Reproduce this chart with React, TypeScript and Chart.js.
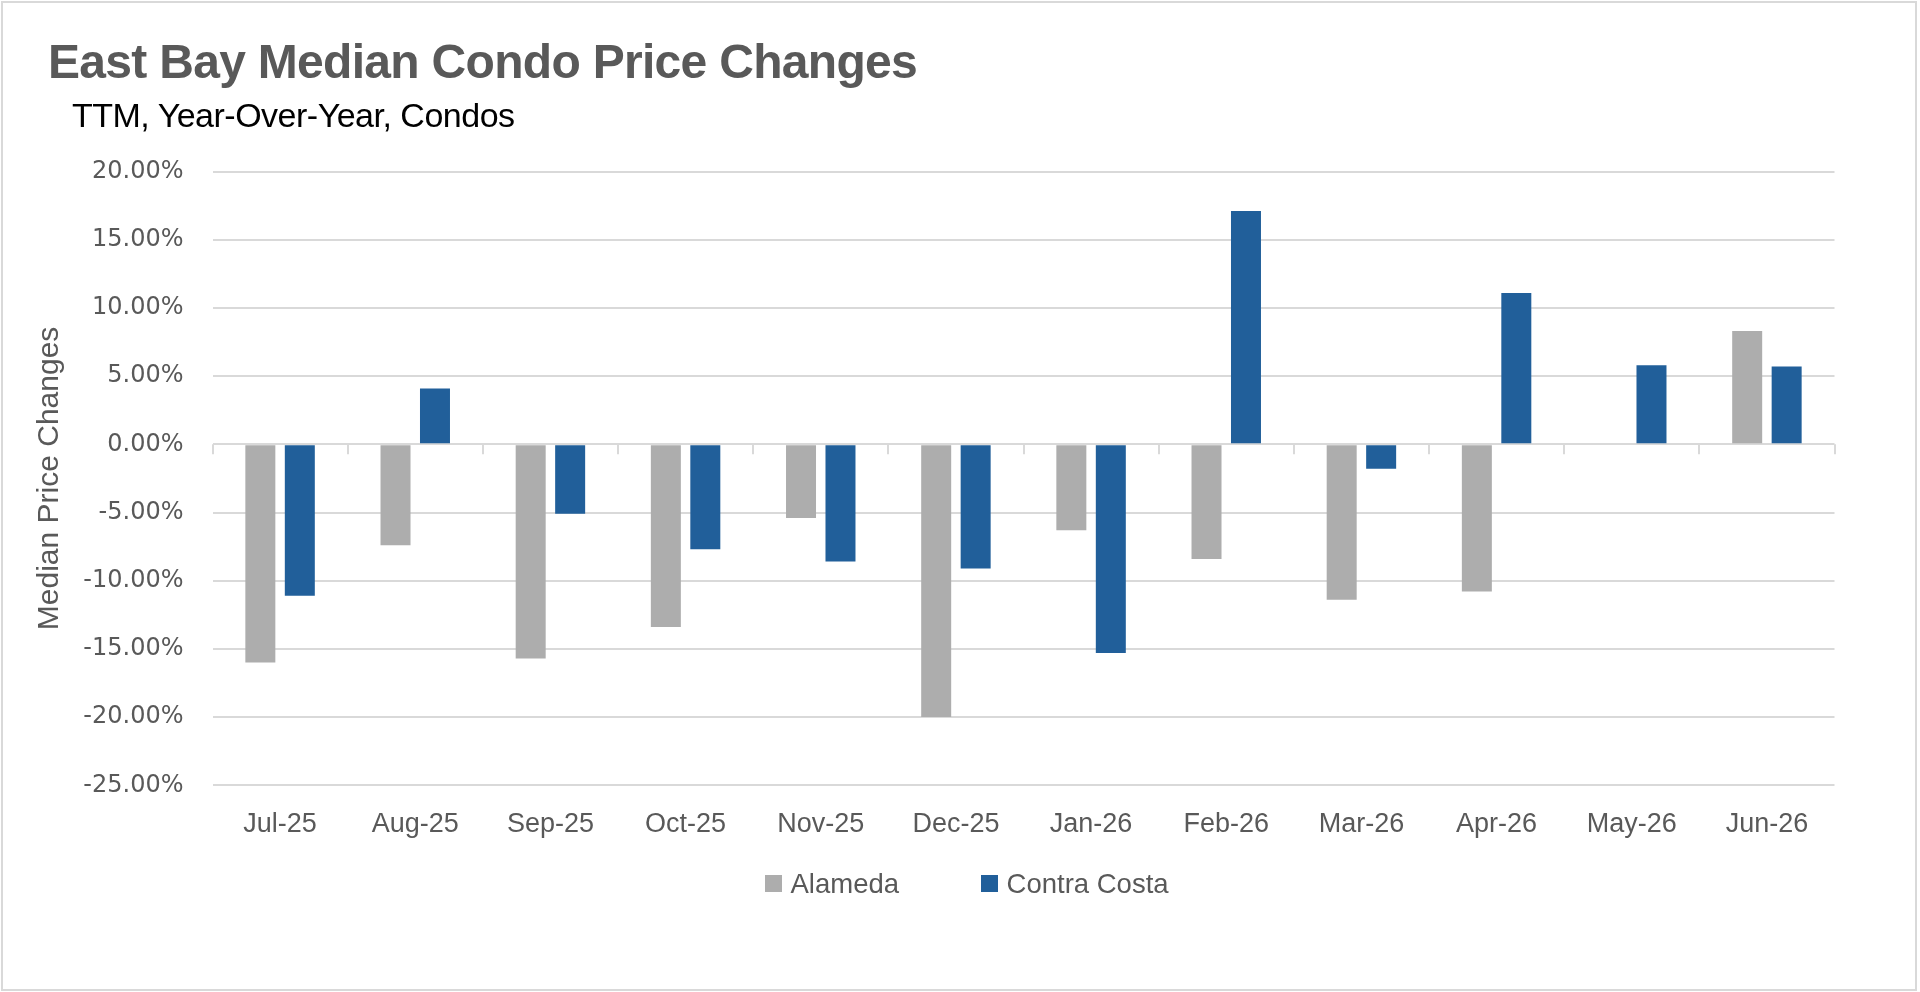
import React, { useEffect, useRef } from "react";
import { Chart, registerables } from "chart.js";

Chart.register(...registerables);

// ---- Data ----
const categories = [
  "Jul-25", "Aug-25", "Sep-25", "Oct-25", "Nov-25", "Dec-25",
  "Jan-26", "Feb-26", "Mar-26", "Apr-26", "May-26", "Jun-26",
];
const alamedaValues: (number | null)[] = [
  -16.0, -7.4, -15.7, -13.4, -5.4, -20.0, -6.3, -8.4, -11.4, -10.8, null, 8.3,
];
const contraCostaValues: (number | null)[] = [
  -11.1, 4.1, -5.1, -7.7, -8.6, -9.1, -15.3, 17.1, -1.8, 11.1, 5.8, 5.7,
];
const seriesNames = ["Alameda", "Contra Costa"];
const yMin = -25;
const yMax = 20;
const yStep = 5;
const titleText = "East Bay Median Condo Price Changes";
const subtitleText = "TTM, Year-Over-Year, Condos";
const yAxisTitle = "Median Price Changes";

// ---- Styles ----
const GRAY_BAR = "#ADADAD";
const BLUE_BAR = "#215F9A";
const GRID = "#D9D9D9";
const TEXT = "#595959";

const zeroTicks = {
  id: "zeroTicks",
  beforeDatasetsDraw(chart: any) {
    const x = chart.scales.x;
    const y = chart.scales.y;
    const y0 = y.getPixelForValue(0);
    const n = categories.length;
    const ctx = chart.ctx;
    ctx.save();
    ctx.strokeStyle = GRID;
    ctx.lineWidth = 2;
    for (let i = 0; i <= n; i++) {
      const px = Math.round(x.left + (i * x.width) / n);
      ctx.beginPath();
      ctx.moveTo(px, y0);
      ctx.lineTo(px, y0 + 10);
      ctx.stroke();
    }
    ctx.restore();
  },
};

export default function App() {
  const canvasRef = useRef<HTMLCanvasElement | null>(null);

  useEffect(() => {
    const canvas = canvasRef.current;
    if (!canvas) return;
    const chart = new Chart(canvas, {
      type: "bar",
      data: {
        labels: categories,
        datasets: [
          {
            label: seriesNames[0],
            data: alamedaValues,
            backgroundColor: GRAY_BAR,
            borderWidth: 0,
            categoryPercentage: 0.584,
            barPercentage: 0.76,
          },
          {
            label: seriesNames[1],
            data: contraCostaValues,
            backgroundColor: BLUE_BAR,
            borderWidth: 0,
            categoryPercentage: 0.584,
            barPercentage: 0.76,
          },
        ],
      },
      options: {
        responsive: false,
        animation: false,
        devicePixelRatio: 1,
        layout: {
          padding: { top: 171.5, left: 20, right: 85.5, bottom: 106.7 },
        },
        plugins: {
          legend: { display: false },
          title: { display: false },
          tooltip: { enabled: false },
        },
        scales: {
          x: {
            grid: { display: false, drawTicks: false },
            border: { display: false },
            ticks: {
              color: TEXT,
              font: { family: "'Liberation Sans', Arial, sans-serif", size: 27 },
              padding: 23.5,
              maxRotation: 0,
              autoSkip: false,
            },
            afterFit: (scale: any) => {
              scale.height = 100;
            },
          },
          y: {
            min: yMin,
            max: yMax,
            grid: { color: GRID, lineWidth: 2, drawTicks: false },
            border: { display: false },
            ticks: {
              stepSize: yStep,
              color: TEXT,
              font: { family: "'DejaVu Sans', Verdana, sans-serif", size: 24 },
              padding: 29,
              callback: (v: any) => Number(v).toFixed(2) + "%",
            },
            title: {
              display: true,
              text: yAxisTitle,
              color: TEXT,
              font: { family: "'Liberation Sans', Arial, sans-serif", size: 30 },
              padding: { top: 12, bottom: 0 },
            },
            afterFit: (scale: any) => {
              scale.width = 192.5;
            },
          },
        },
      },
      plugins: [zeroTicks],
    });
    return () => chart.destroy();
  }, []);

  const legendItems = [
    { name: seriesNames[0], color: GRAY_BAR },
    { name: seriesNames[1], color: BLUE_BAR },
  ];

  return (
    <div
      style={{
        position: "absolute",
        left: 0,
        top: 0,
        width: 1920,
        height: 992,
        overflow: "hidden",
        background: "#fff",
      }}
    >
      <canvas
        ref={canvasRef}
        width={1920}
        height={992}
        style={{ position: "absolute", left: 0, top: 0, display: "block" }}
      />
      <div
        style={{
          position: "absolute",
          left: 1,
          top: 1,
          width: 1916,
          height: 990,
          border: "2px solid #D9D9D9",
          boxSizing: "border-box",
          pointerEvents: "none",
        }}
      />
      <div
        style={{
          position: "absolute",
          left: 48,
          top: 37.7,
          fontFamily: "'Liberation Sans', Arial, sans-serif",
          fontWeight: 700,
          fontSize: 48,
          lineHeight: 1,
          letterSpacing: "-0.7px",
          color: TEXT,
          whiteSpace: "nowrap",
        }}
      >
        {titleText}
      </div>
      <div
        style={{
          position: "absolute",
          left: 72,
          top: 98,
          fontFamily: "'Liberation Sans', Arial, sans-serif",
          fontSize: 34,
          lineHeight: 1,
          letterSpacing: "-0.5px",
          color: "#000",
          whiteSpace: "nowrap",
        }}
      >
        {subtitleText}
      </div>
      <div
        style={{
          position: "absolute",
          left: 765,
          top: 869.5,
          height: 28,
          display: "flex",
          alignItems: "center",
          fontFamily: "'Liberation Sans', Arial, sans-serif",
          fontSize: 27.5,
          lineHeight: "28px",
          color: TEXT,
          whiteSpace: "nowrap",
        }}
      >
        {legendItems.map((it, i) => (
          <div
            key={it.name}
            style={{ display: "flex", alignItems: "center", marginLeft: i === 0 ? 0 : 82 }}
          >
            <span
              style={{
                display: "inline-block",
                width: 16.5,
                height: 16.5,
                background: it.color,
                marginRight: 9,
              }}
            />
            <span>{it.name}</span>
          </div>
        ))}
      </div>
    </div>
  );
}
